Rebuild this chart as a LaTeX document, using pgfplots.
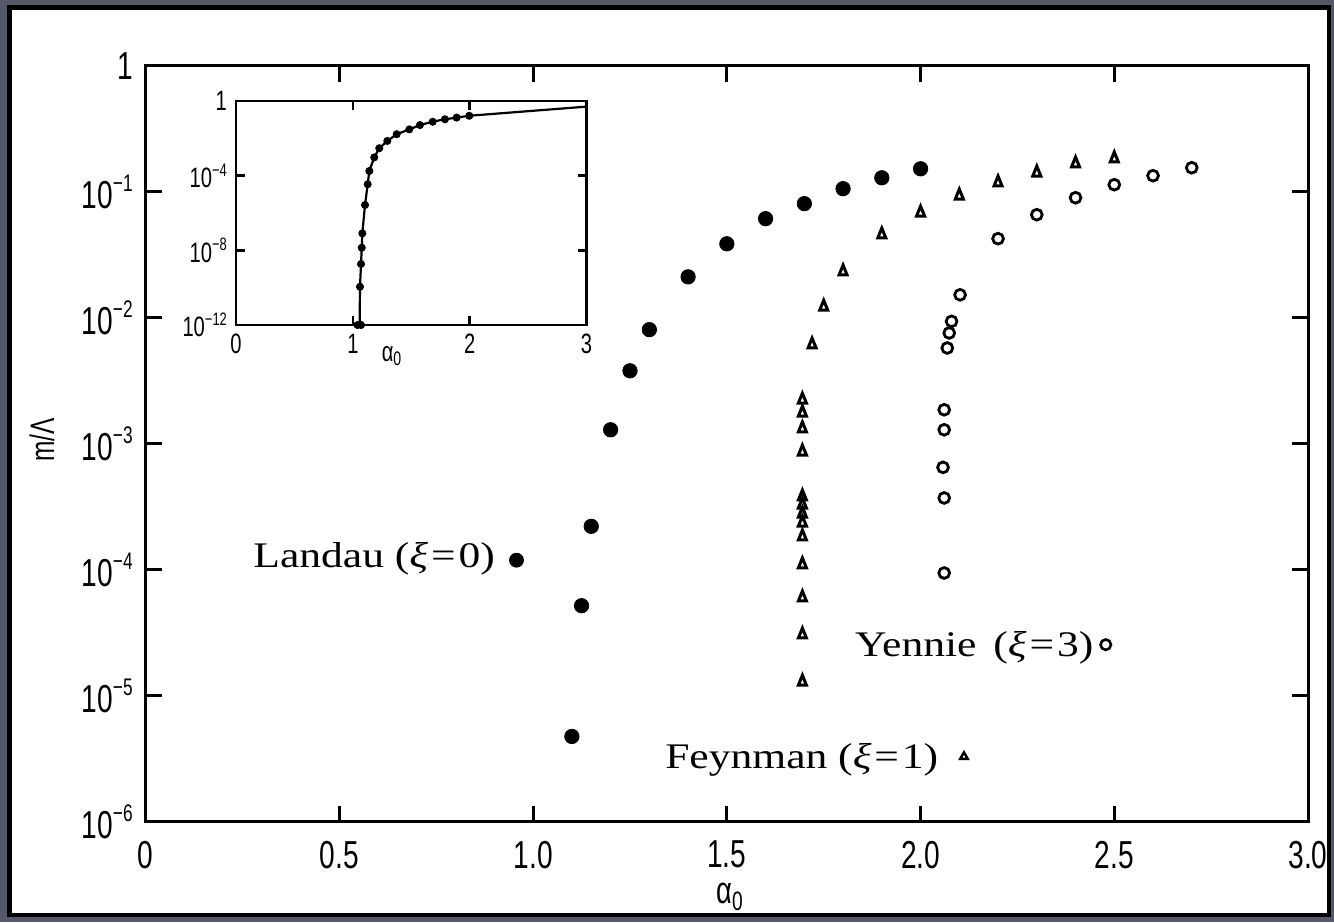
\documentclass[border=0pt]{standalone}
\usepackage{pgfplots}
\usepackage{pgfplotstable}
\pgfplotsset{compat=1.18}
\usepackage{fontspec}
\setmainfont{Liberation Serif}
\newfontfamily\lblfont[FakeStretch=1.21]{Liberation Serif}
\newfontfamily\tickfont[FakeStretch=0.72]{Liberation Sans}
\definecolor{framegray}{RGB}{84,88,104}
\newcommand{\tpow}[1]{10\raisebox{0.8ex}{\fontsize{12}{12}\selectfont #1}}
\newcommand{\spow}[1]{10\raisebox{0.75ex}{\fontsize{9}{9}\selectfont #1}}
\newcommand{\eq}{\kern1.5pt=\kern1.5pt}

\pgfplotstableread{
a m
1.100 4.75e-6
1.125 5.18e-5
1.150 2.21e-4
1.200 1.29e-3
1.250 3.79e-3
1.300 8.04e-3
1.400 2.11e-2
1.500 3.86e-2
1.600 6.11e-2
1.700 8.04e-2
1.800 0.1057
1.900 0.129
2.000 0.152
}\landau

\pgfplotstableread{
a m
1.695 1.29e-5
1.695 3.05e-5
1.695 6.00e-5
1.695 1.10e-4
1.695 1.83e-4
1.695 2.36e-4
1.695 2.78e-4
1.695 3.28e-4
1.695 3.80e-4
1.695 8.64e-4
1.695 1.32e-3
1.695 1.76e-3
1.695 2.23e-3
1.720 6.11e-3
1.750 1.22e-2
1.800 2.32e-2
1.900 4.56e-2
2.000 6.81e-2
2.100 9.29e-2
2.200 0.118
2.300 0.1415
2.400 0.167
2.500 0.183
}\feynman

\pgfplotstableread{
a m
2.061 9.42e-5
2.061 3.71e-4
2.058 6.49e-4
2.061 1.29e-3
2.061 1.86e-3
2.069 5.75e-3
2.074 7.57e-3
2.080 9.36e-3
2.102 1.52e-2
2.200 4.24e-2
2.300 6.57e-2
2.400 8.96e-2
2.500 0.1137
2.600 0.134
2.700 0.155
}\yennie

\pgfplotstableread{
a m
1.058 1e-12
1.061 1.12e-10
1.070 1.86e-9
1.076 1.38e-8
1.081 8.13e-8
1.104 2.69e-6
1.127 3.47e-5
1.141 1.78e-4
1.183 9.55e-4
1.226 2.95e-3
1.295 7.24e-3
1.375 1.66e-2
1.483 3.02e-2
1.574 5.13e-2
1.683 7.76e-2
1.788 0.105
1.888 0.129
1.996 0.162
3.000 0.50
}\insetline

\pgfplotstableread{
a m
1.040 1e-12
1.070 1e-12
1.061 1.12e-10
1.070 1.86e-9
1.076 1.38e-8
1.081 8.13e-8
1.104 2.69e-6
1.127 3.47e-5
1.141 1.78e-4
1.183 9.55e-4
1.226 2.95e-3
1.295 7.24e-3
1.375 1.66e-2
1.483 3.02e-2
1.574 5.13e-2
1.683 7.76e-2
1.788 0.105
1.888 0.129
1.996 0.162
}\insetmarks

\begin{document}
\begin{tikzpicture}
\path[use as bounding box] (-72.85pt,-50.15pt) rectangle (594.15pt,410.85pt);
\fill[framegray] (-72.85pt,-50.15pt) rectangle (594.15pt,410.85pt);
\draw[black, line width=2.2pt, fill=white] (-68.1pt,-46.65pt) rectangle (591.65pt,407.1pt);

\begin{axis}[
  at={(0pt,0pt)}, anchor=south west,
  scale only axis, width=581.15pt, height=378pt,
  xmin=0, xmax=3, ymin=1e-6, ymax=1, ymode=log,
  xtick={0,0.5,1,1.5,2,2.5,3},
  xticklabels={0,0.5,1.0,1.5,2.0,2.5,3.0},
  ytick={1e-6,1e-5,1e-4,1e-3,1e-2,1e-1,1},
  yticklabels={\tpow{−6},\tpow{−5},\tpow{−4},\tpow{−3},\tpow{−2},\tpow{−1},1},
  yminorticks=false, xminorticks=false,
  tick align=inside, major tick length=8pt,
  every tick/.style={line width=1.5pt, black},
  axis line style={line width=1.5pt},
  ticklabel style={font=\tickfont\fontsize{19.5}{20}\selectfont},
  xticklabel style={yshift=-6pt},
  yticklabel style={xshift=-3pt},
  clip=false,
]
\addplot[only marks, mark=*, mark size=3.6pt, mark options={fill=black, draw=black}] table {\landau};
\addplot[only marks, mark=triangle, mark size=3.3pt, mark options={xscale=0.7, line width=1.5pt, draw=black}] table {\feynman};
\addplot[only marks, mark=o, mark size=2.7pt, mark options={line width=1.4pt, draw=black}] table {\yennie};
% label symbols
\addplot[only marks, mark=*, mark size=3.5pt, mark options={fill=black, draw=black}] coordinates {(0.957,1.19e-4)};
\addplot[only marks, mark=o, mark size=2.6pt, mark options={line width=1.3pt, draw=black}] coordinates {(2.478,2.54e-5)};
\addplot[only marks, mark=triangle, mark size=2.2pt, mark options={line width=1.2pt, draw=black}] coordinates {(2.112,3.28e-6)};
\node[anchor=base west, font=\lblfont\fontsize{18}{18}\selectfont, inner sep=0pt] at (axis cs:0.277,1.04e-4) {Landau (\textit{ξ}\eq0)};
\node[anchor=base west, font=\lblfont\fontsize{18}{18}\selectfont, inner sep=0pt] at (axis cs:1.340,2.64e-6) {Feynman (\textit{ξ}\eq1)};
\node[anchor=base west, font=\lblfont\fontsize{18}{18}\selectfont, inner sep=0pt] at (axis cs:1.830,2.04e-5) {Yennie\, (\textit{ξ}\eq3)};
\end{axis}

\begin{axis}[
  at={(45.15pt,248.35pt)}, anchor=south west,
  scale only axis, width=175.3pt, height=112pt,
  xmin=0, xmax=3, ymin=1e-12, ymax=1, ymode=log,
  xtick={0,1,2,3},
  xticklabels={0,1,2,3},
  ytick={1e-12,1e-8,1e-4,1},
  yticklabels={\spow{−12},\spow{−8},\spow{−4},1},
  yminorticks=false, xminorticks=false,
  tick align=inside, major tick length=4.5pt,
  every tick/.style={line width=1.3pt, black},
  axis line style={line width=1.4pt},
  ticklabel style={font=\tickfont\fontsize{14}{14}\selectfont},
  xticklabel style={yshift=-1pt},
  yticklabel style={xshift=-1pt},
  clip=false,
]
\addplot[line width=1.1pt, black] table {\insetline};
\addplot[only marks, mark=*, mark size=1.8pt, mark options={fill=black, draw=black}] table {\insetmarks};
\end{axis}

\node[font=\tickfont\fontsize{14}{14}\selectfont] at (123.15pt,232.85pt) {α\textsubscript{0}};
\node[anchor=north, inner sep=0pt, font=\tickfont\fontsize{19}{20}\selectfont] at (292.15pt,-30.5pt) {α\textsubscript{0}};
\node[rotate=90, font=\tickfont\fontsize{17}{18}\selectfont] at (-51.85pt,190.85pt) {m/Λ};
\end{tikzpicture}
\end{document}
